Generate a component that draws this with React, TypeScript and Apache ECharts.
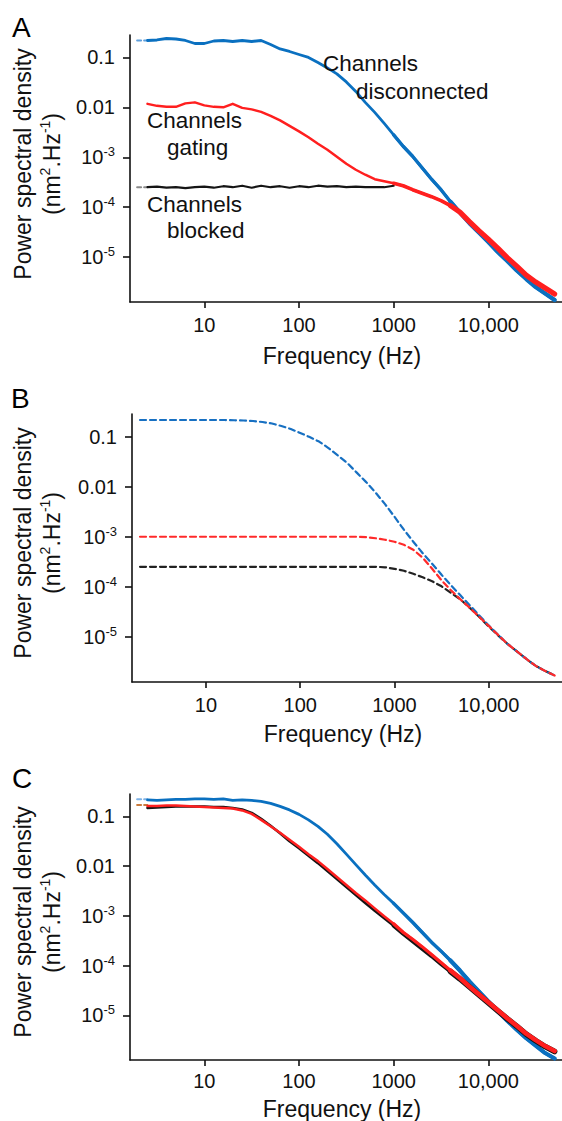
import React, { useEffect, useRef } from "react";
import * as echarts from "echarts";

// Frequency grid (Hz), one point every 0.1 decade, from ~2 Hz to ~50 kHz
const FREQ_HZ = [
  1.995, 2.512, 3.162, 3.981, 5.012, 6.31, 7.943, 10, 12.59, 15.85, 19.95, 25.12, 31.62, 39.81,
  50.12, 63.1, 79.43, 100, 125.9, 158.5, 199.5, 251.2, 316.2, 398.1, 501.2, 631.0, 794.3, 1000,
  1259, 1585, 1995, 2512, 3162, 3981, 5012, 6310, 7943, 10000, 12589, 15849, 19953, 25119, 31623,
  39811, 50119,
];

// log10 of power spectral density (nm^2/Hz), aligned with FREQ_HZ
// Panel A – measured spectra
const A_DISCONNECTED = [
  null, -0.66, -0.65, -0.62, -0.63, -0.66, -0.72, -0.72, -0.67, -0.66, -0.68, -0.66, -0.68, -0.66,
  -0.74, -0.83, -0.88, -0.94, -1.0, -1.1, -1.21, -1.33, -1.49, -1.68, -1.9, -2.1, -2.32, -2.55,
  -2.78, -2.98, -3.21, -3.44, -3.65, -3.89, -4.11, -4.32, -4.51, -4.7, -4.9, -5.08, -5.27, -5.44,
  -5.6, -5.73, -5.86,
];
const A_GATING = [
  null, -1.93, -1.97, -1.99, -1.99, -1.92, -1.9, -1.96, -1.99, -2.0, -1.93, -2.01, -2.04, -2.09,
  -2.17, -2.26, -2.37, -2.48, -2.6, -2.73, -2.85, -2.99, -3.13, -3.25, -3.35, -3.44, -3.48, -3.52,
  -3.57, -3.65, -3.72, -3.79, -3.87, -3.97, -4.1, -4.29, -4.47, -4.64, -4.82, -5.01, -5.18, -5.36,
  -5.5, -5.62, -5.74,
];
const A_BLOCKED = [
  null, -3.6, -3.59, -3.61, -3.6, -3.62, -3.6, -3.59, -3.61, -3.58, -3.6, -3.57, -3.61, -3.57, -3.6,
  -3.58, -3.61, -3.58, -3.6, -3.57, -3.59, -3.58, -3.6, -3.59, -3.6, -3.6, -3.6, -3.57, null,
  null, null, null, null, null, null, null, null, null, null, null, null, null, null, null, null,
];
// Panel B – model curves
const B_DISCONNECTED = [
  -0.67, -0.67, -0.67, -0.67, -0.67, -0.67, -0.67, -0.67, -0.67, -0.67, -0.675, -0.68, -0.69, -0.71,
  -0.74, -0.79, -0.85, -0.93, -1.01, -1.1, -1.23, -1.38, -1.53, -1.72, -1.91, -2.12, -2.35, -2.6,
  -2.86, -3.1, -3.33, -3.54, -3.76, -3.97, -4.17, -4.37, -4.57, -4.77, -4.96, -5.14, -5.29, -5.44,
  -5.58, -5.68, -5.77,
];
const B_GATING = [
  -3.0, -3.0, -3.0, -3.0, -3.0, -3.0, -3.0, -3.0, -3.0, -3.0, -3.0, -3.0, -3.0, -3.0, -3.0, -3.0,
  -3.0, -3.0, -3.0, -3.0, -3.0, -3.0, -3.0, -3.0, -3.01, -3.03, -3.06, -3.1, -3.16, -3.26, -3.42,
  -3.64, -3.87, -4.07, -4.25, -4.42, -4.6, -4.78, -4.96, -5.14, -5.29, -5.44, -5.58, -5.68, -5.77,
];
const B_BLOCKED = [
  -3.6, -3.6, -3.6, -3.6, -3.6, -3.6, -3.6, -3.6, -3.6, -3.6, -3.6, -3.6, -3.6, -3.6, -3.6, -3.6,
  -3.6, -3.6, -3.6, -3.6, -3.6, -3.6, -3.6, -3.6, -3.6, -3.6, -3.61, -3.64, -3.68, -3.74, -3.81,
  -3.89, -3.99, -4.12, -4.25, -4.42, -4.6, -4.79, -4.97, -5.14, -5.29, -5.44, -5.58, -5.68, -5.77,
];
// Panel C – measured spectra
const C_DISCONNECTED = [
  null, -0.67, -0.68, -0.67, -0.66, -0.66, -0.65, -0.65, -0.66, -0.65, -0.68, -0.67, -0.68, -0.7,
  -0.74, -0.8, -0.87, -0.96, -1.07, -1.2, -1.36, -1.55, -1.76, -1.97, -2.18, -2.38, -2.57, -2.75,
  -2.94, -3.13, -3.33, -3.53, -3.71, -3.9, -4.1, -4.32, -4.52, -4.72, -4.92, -5.11, -5.29, -5.46,
  -5.61, -5.76, -5.87,
];
const C_GATING = [
  null, -0.79, -0.79, -0.78, -0.78, -0.79, -0.8, -0.81, -0.82, -0.83, -0.84, -0.88, -0.95, -1.07,
  -1.2, -1.33, -1.47, -1.61, -1.76, -1.9, -2.06, -2.22, -2.38, -2.54, -2.69, -2.85, -3.01, -3.16,
  -3.33, -3.47, -3.62, -3.78, -3.94, -4.1, -4.25, -4.42, -4.58, -4.74, -4.9, -5.06, -5.21, -5.37,
  -5.5, -5.62, -5.72,
];
const C_BLOCKED = [
  null, -0.83, -0.82, -0.81, -0.8, -0.8, -0.8, -0.8, -0.81, -0.81, -0.83, -0.86, -0.93, -1.05,
  -1.19, -1.34, -1.5, -1.64, -1.79, -1.94, -2.1, -2.26, -2.42, -2.58, -2.74, -2.9, -3.05, -3.2,
  -3.36, -3.51, -3.66, -3.81, -3.97, -4.12, -4.27, -4.43, -4.59, -4.75, -4.91, -5.07, -5.22, -5.38,
  -5.51, -5.63, -5.73,
];

// Short dashed fit markers at the left edge (Hz, PSD)
const STUB_FREQ = [1.95, 2.5];
const A_STUB_DISCONNECTED = [0.219, 0.219];
const A_STUB_BLOCKED = [2.5e-4, 2.5e-4];
const C_STUB_DISCONNECTED = [0.222, 0.222];
const C_STUB_GATING = [0.17, 0.17];

// Axis ticks
const X_TICKS = [10, 100, 1000, 10000];
const X_TICK_LABELS = ["10", "100", "1000", "10,000"];
const Y_TICKS = [0.1, 0.01, 0.001, 0.0001, 0.00001];
const Y_TICK_LABELS = [["0.1", ""], ["0.01", ""], ["10", "-3"], ["10", "-4"], ["10", "-5"]];

const PANEL_LETTERS = ["A", "B", "C"];
const X_TITLE = "Frequency (Hz)";
const Y_TITLE = "Power spectral density\n(nm{s|2}.Hz{s|-1})";

const FONT = "'Liberation Sans', Arial, Helvetica, sans-serif";
const INK = "#111";
const BLUE = "#0a70c0";
const RED = "#ff1f1f";
const BLACK = "#151515";

const X_MIN = 1.64;
const X_MAX = 60000;
const Y_MIN = Math.pow(10, -5.9);
const Y_MAX = Math.pow(10, -0.55);

const GRIDS = [
  { left: 130, top: 35, width: 432, height: 267 },
  { left: 132, top: 414, width: 430, height: 268 },
  { left: 130, top: 794, width: 432, height: 268 },
];
const NAME_GAPS = [42, 40, 37];
const LABEL_MARGINS = [13, 13, 11];
const Y_TITLE_CENTERS = [164, 543, 922];
const LETTER_Y = [27, 398, 778];

function pairs(logs: (number | null)[], from = 0, to = logs.length - 1) {
  const out: number[][] = [];
  for (let i = from; i <= to; i++) {
    const e = logs[i];
    if (e == null) continue;
    out.push([FREQ_HZ[i], Math.pow(10, e)]);
  }
  return out;
}
function stub(vals: number[]) {
  return STUB_FREQ.map((f, i) => [f, vals[i]]);
}

function line(grid: number, data: number[][], color: string, width: number, z: number, dash?: number[] | null) {
  return {
    type: "line",
    xAxisIndex: grid,
    yAxisIndex: grid,
    data,
    showSymbol: false,
    symbol: "none",
    smooth: false,
    z,
    silent: true,
    lineStyle: { color, width, type: dash || "solid", cap: "round", join: "round" },
  };
}

// indices where the high-frequency noise band progressively thickens
const MID = 27;
const HI = 33;

function buildOption() {
  const xAxis = GRIDS.map((_, i) => ({
    type: "log",
    logBase: 10,
    gridIndex: i,
    min: X_MIN,
    max: X_MAX,
    axisLine: { show: true, lineStyle: { color: INK, width: 1.6 } },
    axisTick: { show: true, length: 6, lineStyle: { color: INK, width: 1.6 }, customValues: X_TICKS },
    minorTick: { show: false },
    splitLine: { show: false },
    axisLabel: {
      customValues: X_TICKS,
      color: INK,
      fontSize: 20,
      lineHeight: 20,
      fontFamily: FONT,
      margin: LABEL_MARGINS[i],
      formatter: (v: number) => {
        const k = X_TICKS.findIndex((t) => Math.abs(Math.log10(v / t)) < 0.01);
        return k < 0 ? "" : X_TICK_LABELS[k];
      },
    },
    name: X_TITLE,
    nameLocation: "middle",
    nameGap: NAME_GAPS[i],
    nameTextStyle: { color: INK, fontSize: 23, lineHeight: 23, fontFamily: FONT, padding: [0, 8, 0, 0] },
  }));

  const yAxis = GRIDS.map((_, i) => ({
    type: "log",
    logBase: 10,
    gridIndex: i,
    min: Y_MIN,
    max: Y_MAX,
    axisLine: { show: true, lineStyle: { color: INK, width: 1.6 } },
    axisTick: { show: true, length: 7, lineStyle: { color: INK, width: 1.6 }, customValues: Y_TICKS },
    minorTick: { show: false },
    splitLine: { show: false },
    axisLabel: {
      customValues: Y_TICKS,
      margin: 15,
      formatter: (v: number) => {
        const k = Y_TICKS.findIndex((t) => Math.abs(Math.log10(v / t)) < 0.01);
        if (k < 0) return "";
        const [b, s] = Y_TICK_LABELS[k];
        return s ? `{n|${b}}{s|${s}}` : `{n|${b}}`;
      },
      rich: {
        n: { fontSize: 20, lineHeight: 24, fontFamily: FONT, color: INK },
        s: { fontSize: 13, lineHeight: 15, fontFamily: FONT, color: INK, verticalAlign: "top" },
      },
    },
  }));

  const series = [
    // Panel A
    line(0, stub(A_STUB_DISCONNECTED), "#5f9fdc", 2, 1, [4, 3]),
    line(0, stub(A_STUB_BLOCKED), "#8a8a8a", 2, 1, [4, 3]),
    line(0, pairs(A_DISCONNECTED), BLUE, 2.8, 2),
    line(0, pairs(A_DISCONNECTED, MID), BLUE, 3.4, 2),
    line(0, pairs(A_DISCONNECTED, HI), BLUE, 4.2, 2),
    line(0, pairs(A_BLOCKED), BLACK, 2.2, 3),
    line(0, pairs(A_GATING), RED, 2.5, 4),
    line(0, pairs(A_GATING, MID), RED, 3.6, 4),
    line(0, pairs(A_GATING, HI), RED, 5.2, 4),
    // Panel B
    line(1, pairs(B_BLOCKED), "#222", 2.2, 2, [6, 4]),
    line(1, pairs(B_DISCONNECTED), "#1770c2", 2.2, 3, [6, 4]),
    line(1, pairs(B_GATING), "#ff2a2a", 2.2, 4, [6, 4]),
    // Panel C
    line(2, stub(C_STUB_DISCONNECTED), "#7fb3e6", 2, 1, [4, 3]),
    line(2, stub(C_STUB_GATING), "#c97a3c", 2, 1, [4, 3]),
    line(2, pairs(C_DISCONNECTED), BLUE, 2.8, 2),
    line(2, pairs(C_DISCONNECTED, MID), BLUE, 3.4, 2),
    line(2, pairs(C_DISCONNECTED, HI), BLUE, 4.2, 2),
    line(2, pairs(C_BLOCKED), BLACK, 2.6, 3),
    line(2, pairs(C_BLOCKED, MID), BLACK, 4, 3),
    line(2, pairs(C_BLOCKED, HI), BLACK, 5.6, 3),
    line(2, pairs(C_GATING), RED, 2.5, 4),
    line(2, pairs(C_GATING, MID), RED, 3.2, 4),
    line(2, pairs(C_GATING, HI), RED, 4.6, 4),
  ];

  const textStyle = (text: string, size: number, extra: any = {}) => ({
    text,
    fontSize: size,
    fontFamily: FONT,
    fill: INK,
    align: "left",
    verticalAlign: "middle",
    ...extra,
  });

  const graphic: any[] = [];
  PANEL_LETTERS.forEach((L, i) => {
    graphic.push({ type: "text", x: i === 1 ? 11 : 12, y: LETTER_Y[i], style: textStyle(L, 28, { fill: "#000" }) });
    graphic.push({
      type: "text",
      x: 37.5,
      y: Y_TITLE_CENTERS[i],
      rotation: Math.PI / 2,
      style: textStyle(Y_TITLE, 23, {
        align: "center",
        lineHeight: 29,
        rich: { s: { fontSize: 14, lineHeight: 16, verticalAlign: "top", fontFamily: FONT, fill: INK } },
      }),
    });
  });
  const notes: [string, number, number][] = [
    ["Channels", 323, 63],
    ["disconnected", 356, 91],
    ["Channels", 147, 120],
    ["gating", 167, 147],
    ["Channels", 147, 204],
    ["blocked", 167, 230],
  ];
  notes.forEach(([t, x, y]) => graphic.push({ type: "text", x, y, z: 10, style: textStyle(t, 22.5) }));

  return {
    animation: false,
    backgroundColor: "#fff",
    grid: GRIDS.map((g) => ({ ...g, containLabel: false })),
    xAxis,
    yAxis,
    series,
    graphic,
  };
}

export default function App() {
  const ref = useRef<HTMLDivElement>(null);
  useEffect(() => {
    if (!ref.current) return;
    const chart = echarts.init(ref.current, null, { renderer: "svg" });
    chart.setOption(buildOption() as any);
    return () => chart.dispose();
  }, []);
  return (
    <div
      ref={ref}
      style={{ position: "absolute", left: 0, top: 0, width: 562, height: 1121, background: "#fff" }}
    />
  );
}
